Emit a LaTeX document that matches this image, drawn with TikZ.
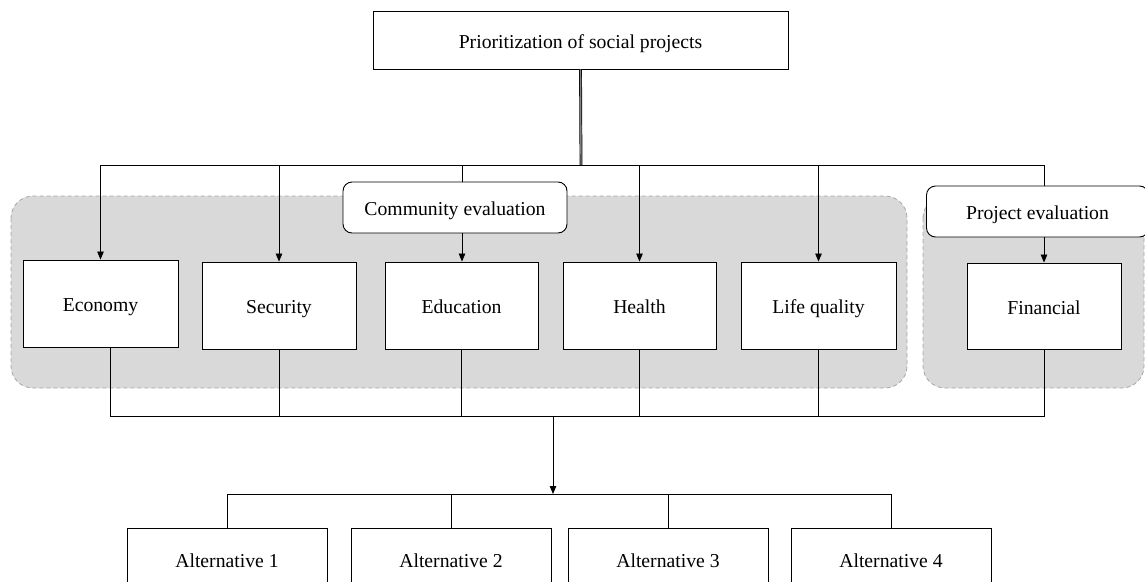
\documentclass[tikz,border=0pt]{standalone}
\usepackage{fontspec}
\setmainfont{Liberation Serif}
\usetikzlibrary{arrows.meta}
\definecolor{regionfill}{HTML}{D9D9D9}
\definecolor{regionline}{HTML}{A6A6A6}
\tikzset{
  box/.style={draw=black, line width=0.9pt, fill=white, inner sep=0pt, text height=18pt, text depth=2pt, font=\fontsize{19.7}{23}\selectfont},
  rbox/.style={box, rounded corners=9pt},
  region/.style={draw=regionline, fill=regionfill, dashed, dash pattern=on 4pt off 3pt, line width=0.8pt, rounded corners=22pt},
  conn/.style={draw=black, line width=0.8pt},
  arr/.style={conn, -{Triangle[length=8pt,width=6.5pt]}},
}
\begin{document}
\begin{tikzpicture}[x=1pt,y=-1pt]
\useasboundingbox (0,0) rectangle (1145,581);
% regions
\draw[region] (11,196) rectangle (907,388);
\draw[region] (923,196) rectangle (1144,388);
% nodes
\node[box, minimum width=415pt, minimum height=58pt] (top) at (580.5,40) {Prioritization of social projects};
\node[rbox, minimum width=224pt, minimum height=51pt] (comm) at (455,207.5) {Community evaluation};
\node[rbox, minimum width=222pt, minimum height=51pt] (proj) at (1037.5,211.5) {Project evaluation};
\node[box, minimum width=155pt, minimum height=87pt] (econ) at (100.5,303.5) {Economy};
\node[box, minimum width=154pt, minimum height=87pt] (sec) at (279,305.5) {Security};
\node[box, minimum width=153pt, minimum height=87pt] (edu) at (461.5,305.5) {Education};
\node[box, minimum width=153pt, minimum height=87pt] (health) at (639.5,305.5) {Health};
\node[box, minimum width=155pt, minimum height=87pt] (life) at (818.5,305.5) {Life quality};
\node[box, minimum width=154pt, minimum height=86pt] (fin) at (1044,306) {Financial};
\node[box, minimum width=200pt, minimum height=62pt] (alt1) at (227,559) {Alternative 1};
\node[box, minimum width=200pt, minimum height=62pt] (alt2) at (451,559) {Alternative 2};
\node[box, minimum width=200pt, minimum height=62pt] (alt3) at (668,559) {Alternative 3};
\node[box, minimum width=200pt, minimum height=62pt] (alt4) at (891,559) {Alternative 4};
% coordinates
\coordinate (hub) at (581,165);
\coordinate (bus) at (553,416);
\coordinate (altbus) at (553,494);
\coordinate (c1) at (462,0);
% top connectors
\draw[conn, double=gray, double distance=1.4pt, line width=0.7pt] (top.south) -- (hub);
\draw[conn] (econ.north |- hub) -- (fin.north |- hub);
\draw[arr] (econ.north |- hub) -- (econ.north);
\draw[arr] (sec.north |- hub) -- (sec.north);
\draw[conn] (c1 |- hub) -- (c1 |- comm.north);
\draw[arr] (c1 |- comm.south) -- (c1 |- edu.north);
\draw[arr] (health.north |- hub) -- (health.north);
\draw[arr] (life.north |- hub) -- (life.north);
\draw[conn] (fin.north |- hub) -- (fin.north |- proj.north);
\draw[arr] (fin.north |- proj.south) -- (fin.north);
% bottom connectors
\draw[conn] ([xshift=9.5pt]econ.south) -- ([xshift=9.5pt]econ.south |- bus) -- (fin.south |- bus) -- (fin.south);
\draw[conn] (sec.south) -- (sec.south |- bus);
\draw[conn] (edu.south) -- (edu.south |- bus);
\draw[conn] (health.south) -- (health.south |- bus);
\draw[conn] (life.south) -- (life.south |- bus);
\draw[arr] (bus) -- (altbus);
\draw[conn] (alt1.north) -- (alt1.north |- altbus) -- (alt4.north |- altbus) -- (alt4.north);
\draw[conn] (alt2.north) -- (alt2.north |- altbus);
\draw[conn] (alt3.north) -- (alt3.north |- altbus);
\end{tikzpicture}
\end{document}
